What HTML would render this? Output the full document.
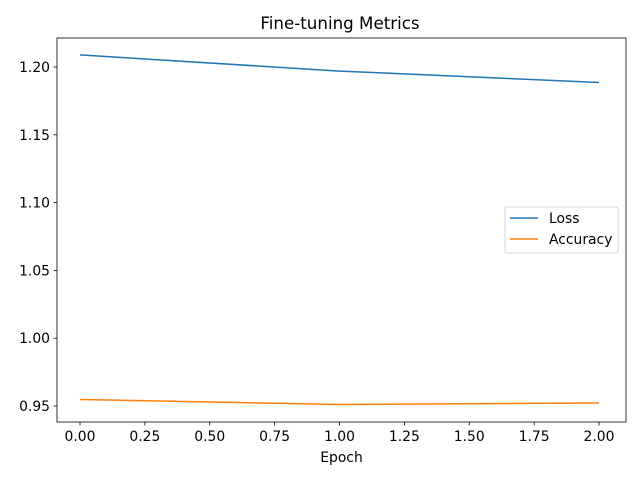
<!DOCTYPE html>
<html><head><meta charset="utf-8"><style>
body{margin:0;background:#fff;}
svg{display:block;font-family:"DejaVu Sans","Liberation Sans",sans-serif;}
</style></head><body>
<svg id="chart" width="640" height="480" viewBox="0 0 640 480">
<rect x="0" y="0" width="640" height="480" fill="#fff"/>
<text x="340" y="29" text-anchor="middle" font-size="16.7" fill="#000">Fine-tuning Metrics</text>
<g id="plot"></g>
</svg>
<script>
const epochs=[0,1,2];
const lossValues=[1.2089,1.197,1.1886];
const accValues=[0.9548,0.9511,0.9522];
const xTicks=[0,0.25,0.5,0.75,1,1.25,1.5,1.75,2];
const xTickLabels=["0.00","0.25","0.50","0.75","1.00","1.25","1.50","1.75","2.00"];
const yTicks=[0.95,1.0,1.05,1.1,1.15,1.2];
const yTickLabels=["0.95","1.00","1.05","1.10","1.15","1.20"];

const L=57,R=626,T=38,B=422;
const xs=v=>80+v*259.5;
const ys=v=>406-(v-0.95)/0.05*67.8;
const NS="http://www.w3.org/2000/svg";
const g=document.getElementById('plot');
function mk(tag,attrs,parent){const e=document.createElementNS(NS,tag);for(const k in attrs)e.setAttribute(k,attrs[k]);(parent||g).appendChild(e);return e;}

xTicks.forEach((t,i)=>{
  const tk=mk('line',{x1:xs(t),x2:xs(t),y1:B,y2:B+3.5,stroke:'#000','stroke-width':0.8});
  
  
  const tx=mk('text',{x:xs(t),y:B+19,'text-anchor':'middle','font-size':13.9,fill:'#000'});
  tx.textContent=xTickLabels[i];
  
  
});
yTicks.forEach((t,i)=>{
  const tk=mk('line',{x1:L-3.5,x2:L,y1:ys(t),y2:ys(t),stroke:'#000','stroke-width':0.8});
  
  
  const tx=mk('text',{x:L-7,y:ys(t)+5,'text-anchor':'end','font-size':13.9,fill:'#000'});
  tx.textContent=yTickLabels[i];
  
  
});
const xt=mk('text',{x:(L+R)/2,y:462,'text-anchor':'middle','font-size':13.9,fill:'#000'});
xt.textContent='Epoch';



function line(vals,color,name){
  const p=mk('polyline',{points:epochs.map((e,i)=>xs(e)+','+ys(vals[i])).join(' '),fill:'none',stroke:color,'stroke-width':1.5});
  
  
}
line(lossValues,'#1f77b4','loss-line');
line(accValues,'#ff7f0e','accuracy-line');

const frame=mk('rect',{x:L,y:T,width:R-L,height:B-T,fill:'none',stroke:'#000','stroke-width':0.8});



const lg=mk('g',{});


mk('rect',{x:505,y:207,width:113,height:46,rx:2,fill:'#fff','fill-opacity':0.8,stroke:'#ccc','stroke-width':0.8},lg);
[['Loss','#1f77b4'],['Accuracy','#ff7f0e']].forEach((d,i)=>{
  const y=218+i*21;
  const ent=mk('g',{},lg);
  
  
  mk('line',{x1:510,x2:538,y1:y,y2:y,stroke:d[1],'stroke-width':1.5},ent);
  const t=mk('text',{x:549,y:y+5,'font-size':13.9,fill:'#000'},ent);
  t.textContent=d[0];
});
</script>
</body></html>
